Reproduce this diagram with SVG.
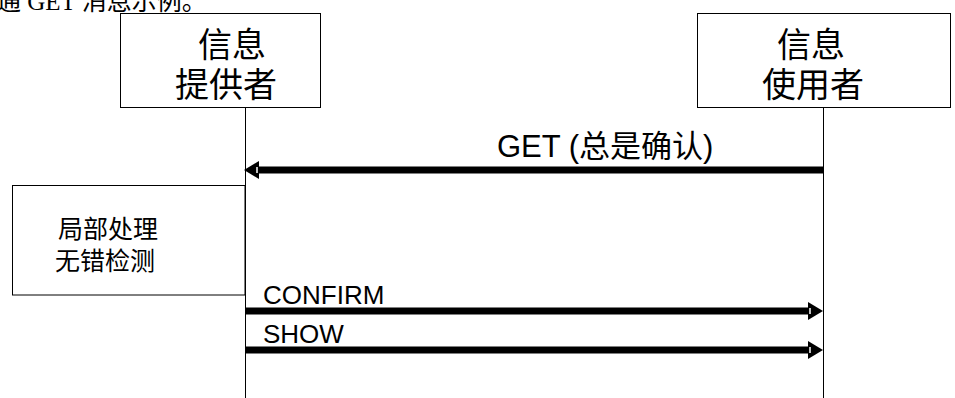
<svg xmlns="http://www.w3.org/2000/svg" width="955" height="398" viewBox="0 0 955 398">
<style>
.box{fill:#fff;stroke:#000;stroke-width:1}
.cjk{font-family:"Noto Sans CJK SC","Liberation Sans",sans-serif;fill:#000}
.lat{font-family:"Liberation Sans","Noto Sans CJK SC",sans-serif;fill:#000}
.life{stroke:#000;stroke-width:1}
.msg{stroke:#000;stroke-width:7;fill:none}
.head{fill:#000}
.notch{stroke:#fff;stroke-width:1.5}
</style>
<text x="-4" y="10" font-family="Liberation Serif,'Noto Sans CJK SC',serif" font-size="25" fill="#000">通 GET 消息示例。</text>
<g id="provider">
<rect class="box" x="120.5" y="13.5" width="200" height="94"/>
<text class="cjk" font-size="34" text-anchor="middle"><tspan x="232" y="57">信息</tspan><tspan x="226" y="97">提供者</tspan></text>
</g>
<g id="user">
<rect class="box" x="697.5" y="13.5" width="253" height="94"/>
<text class="cjk" font-size="34" text-anchor="middle"><tspan x="811" y="57">信息</tspan><tspan x="813" y="97">使用者</tspan></text>
</g>
<g id="local">
<rect class="box" x="12.5" y="185.5" width="232.5" height="109.5" stroke="#444"/>
<text class="cjk" font-size="25"><tspan x="58" y="238">局部处理</tspan><tspan x="55" y="270">无错检测</tspan></text>
</g>
<g id="lifelines">
<line class="life" x1="245.5" y1="107" x2="245.5" y2="398"/>
<line class="life" x1="823.5" y1="107" x2="823.5" y2="398" stroke="#808080" stroke-width="1.5"/>
</g>
<g id="connectors">
<line class="msg" x1="823" y1="170" x2="258" y2="170"/>
<polygon class="head" points="244,170 259,161 259,179"/>
<line class="notch" x1="257" y1="167" x2="257" y2="173"/>
<text class="lat" x="497" y="157" font-size="31">GET (总是确认)</text>

<line class="msg" x1="245" y1="311" x2="810" y2="311"/>
<polygon class="head" points="823,311 808,302 808,320"/>
<line class="notch" x1="810" y1="308" x2="810" y2="314"/>
<text class="lat" x="263" y="304" font-size="26">CONFIRM</text>

<line class="msg" x1="245" y1="350" x2="810" y2="350"/>
<polygon class="head" points="823,350 808,341 808,359"/>
<line class="notch" x1="810" y1="347" x2="810" y2="353"/>
<text class="lat" x="263" y="343" font-size="26">SHOW</text>
</g>
</svg>
